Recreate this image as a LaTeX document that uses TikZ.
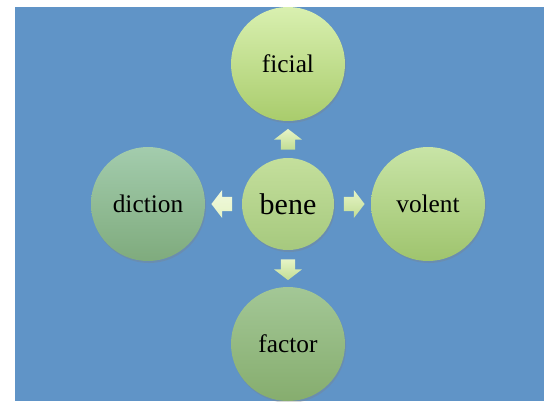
\documentclass[tikz,border=0pt]{standalone}
\usepackage{fontspec}
\setmainfont{Liberation Serif}
\usetikzlibrary{shapes.arrows,shadows}
\definecolor{bgblue}{HTML}{6094C7}
\definecolor{arrtop}{HTML}{E6F4C6}
\definecolor{arrbot}{HTML}{C2DD94}

\begin{document}
\begin{tikzpicture}[x=.75pt,y=-.75pt,
	petal/.style={circle,minimum size=85.5pt,inner sep=0pt,font=\fontsize{19}{22}\selectfont,
		drop shadow={opacity=.3,shadow xshift=.8pt,shadow yshift=-1.5pt}},
	pointer/.style={single arrow,draw=none,inner sep=5.2pt,minimum height=15.5pt,
		single arrow head extend=5pt,single arrow tip angle=105,top color=arrtop,bottom color=arrbot}]
	\useasboundingbox (0,0) rectangle (544,401);
	\fill[bgblue] (15,7) rectangle (544,401);

	\node[petal,top color={rgb,255:red,217;green,240;blue,176},bottom color={rgb,255:red,169;green,204;blue,108}] (ficial) at (288,64) {ficial};
	\node[petal,top color={rgb,255:red,200;green,228;blue,166},bottom color={rgb,255:red,159;green,196;blue,110}] (volent) at (428,204) {volent};
	\node[petal,top color={rgb,255:red,163;green,204;blue,173},bottom color={rgb,255:red,127;green,171;blue,125}] (diction) at (148,204) {diction};
	\node[petal,top color={rgb,255:red,163;green,199;blue,150},bottom color={rgb,255:red,134;green,173;blue,110}] (factor) at (288,344) {factor};
	\node[petal,minimum size=69pt,font=\fontsize{22.5}{26}\selectfont,top color={rgb,255:red,196;green,223;blue,156},bottom color={rgb,255:red,166;green,201;blue,126}] (bene) at (288,204) {bene};

	% arrows out of the centre
	\node[pointer,shape border rotate=90] (toficial) at (288,142) {};
	\node[pointer,shape border rotate=0] (tovolent) at (351.5,204) {};
	\node[pointer,shape border rotate=180,top color=arrtop!60!white,bottom color=arrtop] (todiction) at (224.5,204) {};
	\node[pointer,shape border rotate=270] (tofactor) at (288,267) {};
\end{tikzpicture}
\end{document}
